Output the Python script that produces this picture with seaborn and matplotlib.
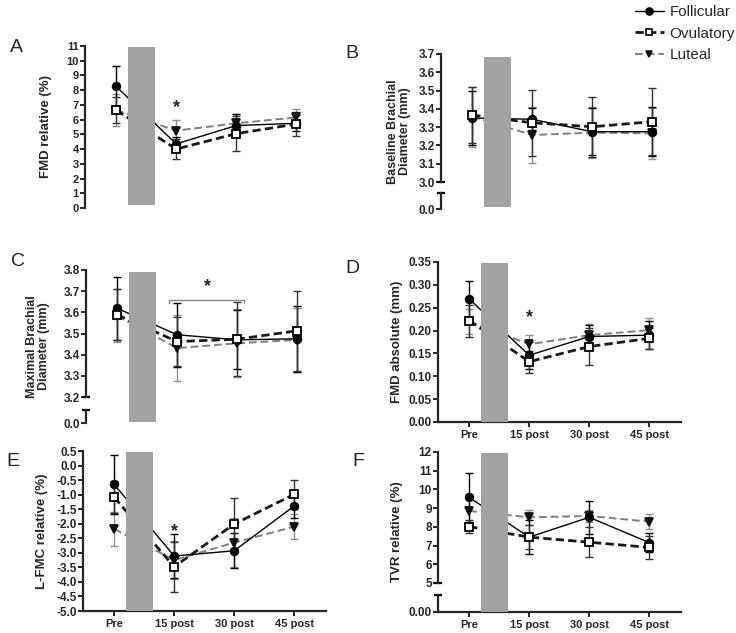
import numpy as np
import matplotlib
matplotlib.use('Agg')
import matplotlib.pyplot as plt
import matplotlib.transforms as mtransforms
from matplotlib.lines import Line2D
import seaborn as sns

sns.set_style("ticks")
plt.rcParams['font.family'] = ['Liberation Sans', 'DejaVu Sans']
plt.rcParams['axes.unicode_minus'] = False

timepoints = ["Pre", "15 post", "30 post", "45 post"]
phases = ["Follicular", "Ovulatory", "Luteal"]

# A - FMD relative (%)
a_mean = {"Follicular": [8.25, 4.35, 5.6, 5.75],
          "Ovulatory": [6.65, 4.0, 5.05, 5.7],
          "Luteal": [6.65, 5.25, 5.75, 6.15]}
a_err = {"Follicular": [1.4, 0.5, 0.77, 0.55],
         "Ovulatory": [0.9, 0.7, 1.17, 0.82],
         "Luteal": [1.1, 0.75, 0.6, 0.58]}

# B - baseline brachial diameter (mm)
b_mean = {"Follicular": [3.35, 3.343, 3.275, 3.275],
          "Ovulatory": [3.366, 3.324, 3.302, 3.33],
          "Luteal": [3.357, 3.257, 3.27, 3.266]}
b_err = {"Follicular": [0.15, 0.06, 0.13, 0.135],
         "Ovulatory": [0.155, 0.18, 0.165, 0.185],
         "Luteal": [0.165, 0.155, 0.14, 0.14]}

# C - maximal brachial diameter (mm)
c_mean = {"Follicular": [3.619, 3.494, 3.47, 3.475],
          "Ovulatory": [3.588, 3.462, 3.473, 3.513],
          "Luteal": [3.583, 3.431, 3.454, 3.47]}
c_err = {"Follicular": [0.15, 0.15, 0.14, 0.155],
         "Ovulatory": [0.12, 0.115, 0.175, 0.19],
         "Luteal": [0.125, 0.157, 0.16, 0.15]}

# D - FMD absolute (mm)
d_mean = {"Follicular": [0.269, 0.146, 0.187, 0.19],
          "Ovulatory": [0.222, 0.132, 0.165, 0.183],
          "Luteal": [0.22, 0.17, 0.19, 0.201]}
d_err = {"Follicular": [0.04, 0.03, 0.025, 0.03],
         "Ovulatory": [0.035, 0.024, 0.041, 0.023],
         "Luteal": [0.027, 0.02, 0.024, 0.026]}

# E - L-FMC relative (%)
e_mean = {"Follicular": [-0.65, -3.11, -2.93, -1.39],
          "Ovulatory": [-1.09, -3.48, -2.01, -0.99],
          "Luteal": [-2.18, -3.25, -2.65, -2.1]}
e_err = {"Follicular": [1.0, 0.75, 0.6, 0.4],
         "Ovulatory": [0.55, 0.85, 0.9, 0.5],
         "Luteal": [0.6, 0.65, 0.85, 0.42]}

# F - TVR relative (%)
f_mean = {"Follicular": [9.57, 7.45, 8.51, 7.16],
          "Ovulatory": [8.01, 7.45, 7.18, 6.9],
          "Luteal": [8.85, 8.51, 8.58, 8.28]}
f_err = {"Follicular": [1.3, 0.9, 0.88, 0.5],
         "Ovulatory": [0.35, 0.65, 0.8, 0.6],
         "Luteal": [0.9, 0.4, 0.3, 0.4]}

styles = {
    "Follicular": dict(color='black', lw=1.0, ls='-', marker='o', mfc='black', mec='black', ecolor='black'),
    "Ovulatory": dict(color='#1a1a1a', lw=2.0, ls=(0, (3, 1.5)), marker='s', mfc='white', mec='black', ecolor='#333333'),
    "Luteal": dict(color='#7f7f7f', lw=1.4, ls=(0, (4, 2)), marker='v', mfc='#111111', mec='#111111', ecolor='#8f8f8f'),
}

W, H = 736, 633
fig = plt.figure(figsize=(W / 100, H / 100), dpi=100)
XLIM = (-0.52, 3.53)
BAR = (0.19, 0.65)
BAR_COLOR = '#a2a2a5'
YTICK_FS = 8.5
XTICK_FS = 8
YLABEL_FS = 9.5


def add_ax(left, top, bottom, width=243):
    return fig.add_axes([left / W, 1 - bottom / H, width / W, (bottom - top) / H])


def style_axis(ax, show_x, yfs=YTICK_FS):
    for s in ['top', 'right']:
        ax.spines[s].set_visible(False)
    ax.spines['left'].set_linewidth(1.6)
    ax.spines['bottom'].set_linewidth(1.6)
    ax.tick_params(axis='y', direction='out', length=3.5, width=1.4, pad=1)
    ax.set_xlim(*XLIM)
    if show_x:
        ax.set_xticks(range(len(timepoints)), timepoints)
        ax.tick_params(axis='x', direction='out', length=3.5, width=1.4, pad=2)
    else:
        ax.spines['bottom'].set_visible(False)
        ax.tick_params(axis='x', bottom=False, labelbottom=False)
    for lab in ax.get_xticklabels():
        lab.set_fontweight('bold')
        lab.set_fontsize(XTICK_FS)
    for lab in ax.get_yticklabels():
        lab.set_fontweight('bold')
        lab.set_fontsize(yfs)


def draw_series(ax, means, errs):
    x = np.arange(len(timepoints))
    for ph in ["Luteal", "Follicular", "Ovulatory"]:
        st = styles[ph]
        ax.errorbar(x, means[ph], yerr=errs[ph], fmt='none', ecolor=st['ecolor'],
                    elinewidth=1.0, capsize=3, capthick=1.0, zorder=2, clip_on=False)
        sns.lineplot(x=x, y=means[ph], ax=ax, color=st['color'], lw=st['lw'],
                     linestyle=st['ls'], marker=st['marker'], markersize=5.5,
                     markerfacecolor=st['mfc'], markeredgecolor=st['mec'],
                     markeredgewidth=1.3, errorbar=None, legend=False,
                     zorder=3, clip_on=False)


def break_axis(ax, left, seg_top, bottom, brk, fmt):
    # main spine stops at brk, small segment carries the zero tick
    top = ax.get_ylim()[1]
    ax.spines['left'].set_bounds(brk, top)
    tr = mtransforms.blended_transform_factory(ax.transAxes, ax.transData)
    ax.plot([0], [brk], marker='_', ms=6, mew=1.6, color='black', transform=tr, clip_on=False)
    low = add_ax(left, seg_top, bottom)
    low.patch.set_visible(False)
    for s in ['top', 'right', 'bottom']:
        low.spines[s].set_visible(False)
    low.spines['left'].set_linewidth(1.6)
    low.set_ylim(0, 1)
    low.set_yticks([0], [fmt])
    low.set_xticks([])
    low.tick_params(axis='y', direction='out', length=3.5, width=1.4, pad=1)
    for lab in low.get_yticklabels():
        lab.set_fontweight('bold')
        lab.set_fontsize(YTICK_FS)
    low.plot([0], [1], marker='_', ms=6, mew=1.6, color='black',
             transform=low.transAxes, clip_on=False)


def gray_bar(ax, ymin=0.01, ymax=0.99):
    ax.axvspan(BAR[0], BAR[1], ymin=ymin, ymax=ymax, color=BAR_COLOR, lw=0, zorder=5)


def star(ax, x, y):
    ax.text(x, y, '*', ha='center', va='bottom', fontsize=13, fontweight='bold')


# ---- A
ax = add_ax(85, 46, 208)
draw_series(ax, a_mean, a_err)
ax.set_ylim(0, 11)
ax.set_yticks(range(0, 12))
style_axis(ax, False, yfs=8)
gray_bar(ax, 0.02, 0.995)
star(ax, 1, 6.25)
ax.set_ylabel('FMD relative (%)', fontsize=YLABEL_FS, fontweight='bold')
ax.yaxis.set_label_coords(-0.135, 0.5)

# ---- B
ax = add_ax(441, 54, 209)
draw_series(ax, b_mean, b_err)
ax.set_ylim(3.0 - 27 / 182.9, 3.7)
ax.set_yticks(np.round(np.arange(3.0, 3.71, 0.1), 1))
ax.set_yticklabels([f'{v:.1f}' for v in np.arange(3.0, 3.71, 0.1)])
style_axis(ax, False)
gray_bar(ax, 0.015, 0.98)
ax.set_ylabel('Baseline Brachial\nDiameter (mm)', fontsize=9, fontweight='bold', linespacing=1.0)
ax.yaxis.set_label_coords(-0.125, 0.5)
break_axis(ax, 441, 193, 209, 3.0, '0.0')

# ---- C
ax = add_ax(86, 270, 423)
draw_series(ax, c_mean, c_err)
ax.set_ylim(3.2 - 26 / 211.7, 3.8)
ax.set_yticks(np.round(np.arange(3.2, 3.81, 0.1), 1))
ax.set_yticklabels([f'{v:.1f}' for v in np.arange(3.2, 3.81, 0.1)])
style_axis(ax, False)
gray_bar(ax, 0.005, 0.985)
ax.plot([0.87, 0.87, 2.12, 2.12], [3.645, 3.658, 3.658, 3.645], color='#8a8a8a', lw=1.0, zorder=4)
star(ax, 1.5, 3.68)
ax.set_ylabel('Maximal Brachial\nDiameter (mm)', fontsize=9, fontweight='bold', linespacing=1.0)
ax.yaxis.set_label_coords(-0.15, 0.5)
break_axis(ax, 86, 410, 423, 3.2, '0.0')

# ---- D
ax = add_ax(438, 262, 422)
draw_series(ax, d_mean, d_err)
ax.set_ylim(0, 0.35)
ax.set_yticks(np.round(np.arange(0, 0.351, 0.05), 2))
ax.set_yticklabels([f'{v:.2f}' for v in np.arange(0, 0.351, 0.05)])
style_axis(ax, True)
gray_bar(ax, 0.0, 0.995)
star(ax, 1, 0.209)
ax.set_ylabel('FMD absolute (mm)', fontsize=YLABEL_FS, fontweight='bold')
ax.yaxis.set_label_coords(-0.145, 0.5)

# ---- E
ax = add_ax(83, 451, 611)
draw_series(ax, e_mean, e_err)
ax.set_ylim(-5.0, 0.5)
ax.set_yticks(np.round(np.arange(-5.0, 0.51, 0.5), 1))
ax.set_yticklabels([f'{v:.1f}' for v in np.arange(-5.0, 0.51, 0.5)])
style_axis(ax, True)
gray_bar(ax, 0.0, 0.995)
star(ax, 1, -2.55)
ax.set_ylabel('L-FMC relative (%)', fontsize=YLABEL_FS, fontweight='bold')
ax.yaxis.set_label_coords(-0.145, 0.5)

# ---- F
ax = add_ax(438, 452, 612)
draw_series(ax, f_mean, f_err)
ax.set_ylim(5 - 29 / 18.71, 12)
ax.set_yticks(range(5, 13))
style_axis(ax, True)
gray_bar(ax, 0.0, 0.995)
ax.set_ylabel('TVR relative (%)', fontsize=YLABEL_FS, fontweight='bold')
ax.yaxis.set_label_coords(-0.145, 0.5)
break_axis(ax, 438, 595, 612, 5, '0.00')

# panel letters
for letter, (px, py) in {'A': (16, 47), 'B': (352, 54), 'C': (18, 262),
                         'D': (352, 268), 'E': (13, 462), 'F': (358, 462)}.items():
    fig.text(px / W, 1 - py / H, letter, fontsize=14, ha='center', va='center')

# legend
handles = []
for ph in phases:
    st = styles[ph]
    handles.append(Line2D([], [], color=st['color'], lw=st['lw'], linestyle=st['ls'],
                          marker=st['marker'], markersize=5, markerfacecolor=st['mfc'],
                          markeredgecolor=st['mec'], markeredgewidth=1.2))
fig.legend(handles, phases, loc='upper right', bbox_to_anchor=(735 / W, 1 - 5 / H),
           frameon=False, fontsize=11, handlelength=1.9, handletextpad=0.38,
           labelspacing=0.5, borderpad=0.0, borderaxespad=0.0)

fig.savefig('out.png', dpi=100)
